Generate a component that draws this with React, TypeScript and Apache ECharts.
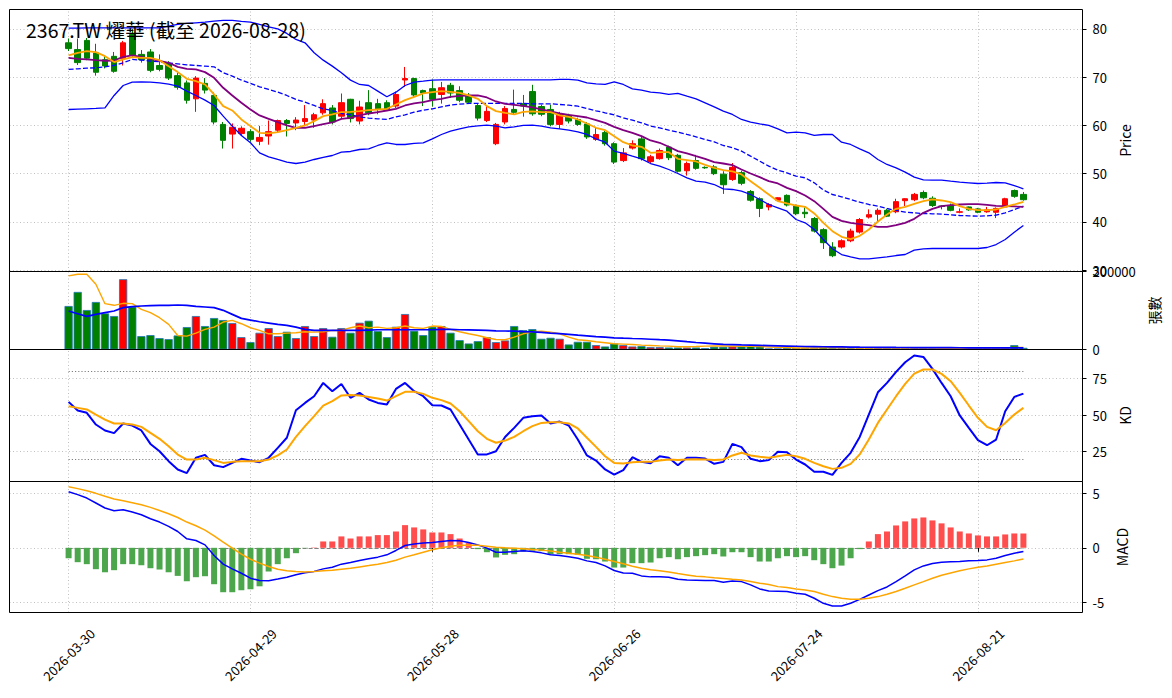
import React, { useEffect, useRef } from "react";
import * as echarts from "echarts";

const dates = [
  "2026-03-30","2026-03-31","2026-04-01","2026-04-02","2026-04-07","2026-04-08","2026-04-09","2026-04-10","2026-04-13","2026-04-14",
  "2026-04-15","2026-04-16","2026-04-17","2026-04-20","2026-04-21","2026-04-22","2026-04-23","2026-04-24","2026-04-27","2026-04-28",
  "2026-04-29","2026-04-30","2026-05-04","2026-05-05","2026-05-06","2026-05-07","2026-05-08","2026-05-11","2026-05-12","2026-05-13",
  "2026-05-14","2026-05-15","2026-05-18","2026-05-19","2026-05-20","2026-05-21","2026-05-22","2026-05-25","2026-05-26","2026-05-27",
  "2026-05-28","2026-05-29","2026-06-01","2026-06-02","2026-06-03","2026-06-04","2026-06-05","2026-06-08","2026-06-09","2026-06-10",
  "2026-06-11","2026-06-12","2026-06-15","2026-06-16","2026-06-17","2026-06-18","2026-06-22","2026-06-23","2026-06-24","2026-06-25",
  "2026-06-26","2026-06-29","2026-06-30","2026-07-01","2026-07-02","2026-07-03","2026-07-06","2026-07-07","2026-07-08","2026-07-09",
  "2026-07-10","2026-07-13","2026-07-14","2026-07-15","2026-07-16","2026-07-17","2026-07-20","2026-07-21","2026-07-22","2026-07-23",
  "2026-07-24","2026-07-27","2026-07-28","2026-07-29","2026-07-30","2026-07-31","2026-08-03","2026-08-04","2026-08-05","2026-08-06",
  "2026-08-07","2026-08-10","2026-08-11","2026-08-12","2026-08-13","2026-08-14","2026-08-17","2026-08-18","2026-08-19","2026-08-20",
  "2026-08-21","2026-08-24","2026-08-25","2026-08-26","2026-08-27","2026-08-28",
];

const openP = [
  77.1, 75.7, 77.6, 75.0, 73.6, 74.3, 73.9, 78.8, 74.7, 75.2,
  72.4, 72.8, 70.3, 68.8, 65.5, 68.7, 66.2, 60.2, 58.2, 58.3,
  58.7, 56.7, 57.8, 59.0, 61.0, 60.5, 60.8, 61.1, 62.6, 63.6,
  61.9, 65.4, 60.9, 64.7, 64.5, 64.7, 64.0, 69.4, 69.7, 67.2,
  67.6, 66.4, 68.3, 67.2, 66.2, 64.1, 61.0, 56.2, 60.7, 63.3,
  64.5, 67.0, 63.9, 63.3, 60.2, 62.0, 61.2, 60.3, 57.1, 58.5,
  56.2, 52.7, 55.3, 57.2, 52.5, 53.1, 55.5, 53.8, 50.6, 52.7,
  51.3, 51.4, 49.9, 48.8, 50.2, 46.3, 44.8, 43.1, 44.5, 45.5,
  43.3, 42.0, 40.7, 38.4, 34.8, 34.8, 36.1, 37.9, 41.0, 41.6,
  42.4, 42.1, 44.4, 44.6, 46.1, 44.9, 43.3, 43.4, 42.0, 43.1,
  42.7, 42.1, 42.0, 43.1, 46.5, 45.7,
];
const closeP = [
  75.9, 73.0, 73.9, 71.0, 72.3, 71.2, 77.1, 74.5, 73.6, 71.4,
  71.6, 69.8, 67.9, 65.2, 69.8, 67.3, 60.7, 56.9, 59.6, 59.4,
  57.1, 57.5, 58.7, 61.0, 60.4, 61.1, 61.4, 62.2, 64.5, 60.7,
  64.7, 61.4, 63.8, 62.6, 63.3, 63.4, 66.4, 69.7, 66.3, 66.7,
  65.4, 67.8, 66.7, 65.2, 64.8, 61.5, 62.9, 60.2, 63.5, 62.7,
  64.0, 62.4, 62.3, 60.2, 62.4, 60.9, 60.2, 57.6, 58.1, 56.2,
  52.4, 54.3, 56.2, 53.1, 53.5, 54.8, 53.3, 50.5, 52.1, 51.1,
  51.2, 50.0, 47.7, 51.3, 48.0, 44.5, 42.8, 43.6, 45.0, 43.5,
  41.7, 41.7, 38.1, 35.7, 33.0, 36.1, 38.1, 40.5, 41.5, 42.4,
  41.2, 44.2, 44.8, 45.7, 45.0, 43.4, 43.2, 42.4, 42.1, 42.5,
  42.0, 42.5, 42.8, 44.8, 45.3, 44.6,
];
const highP = [
  78.0, 78.0, 78.1, 76.9, 74.5, 75.2, 77.5, 79.9, 75.6, 75.8,
  74.7, 73.3, 70.9, 69.3, 70.2, 69.8, 66.8, 60.7, 60.4, 59.8,
  59.2, 59.9, 61.0, 61.2, 61.3, 61.7, 64.2, 62.6, 65.4, 64.2,
  66.6, 65.5, 65.1, 67.3, 65.5, 65.2, 67.0, 72.1, 69.9, 67.4,
  69.5, 69.0, 68.8, 68.1, 66.7, 64.5, 64.0, 60.5, 64.0, 67.4,
  66.3, 68.4, 64.3, 64.3, 62.8, 62.4, 61.6, 60.7, 59.5, 58.9,
  56.5, 55.3, 56.9, 57.6, 53.9, 55.2, 55.8, 54.1, 52.5, 53.9,
  51.5, 51.8, 50.5, 52.2, 50.6, 46.6, 45.1, 43.9, 45.1, 45.7,
  43.6, 43.0, 41.0, 38.7, 35.8, 36.4, 38.6, 40.8, 42.6, 42.8,
  42.7, 44.8, 44.9, 46.0, 46.5, 45.3, 43.4, 43.8, 42.8, 43.2,
  42.9, 43.1, 43.0, 45.0, 46.7, 46.2,
];
const lowP = [
  75.4, 72.5, 73.5, 70.3, 71.8, 70.9, 72.4, 74.0, 73.0, 71.0,
  71.2, 69.4, 67.4, 64.5, 62.8, 66.6, 60.2, 55.2, 55.2, 57.8,
  56.6, 55.9, 56.0, 58.6, 57.7, 59.0, 59.8, 59.5, 62.2, 60.2,
  61.5, 60.6, 60.2, 62.1, 62.3, 63.0, 63.6, 68.0, 65.7, 64.0,
  63.9, 64.5, 65.7, 64.8, 64.4, 61.0, 60.7, 55.9, 60.2, 62.3,
  61.8, 62.0, 61.9, 59.8, 59.3, 60.4, 59.9, 57.2, 56.8, 55.8,
  52.0, 52.4, 55.0, 52.7, 52.2, 52.9, 52.8, 50.2, 49.6, 50.8,
  51.0, 49.7, 45.8, 48.5, 47.6, 44.2, 41.0, 42.4, 44.2, 43.2,
  41.4, 40.8, 37.8, 34.4, 32.7, 34.5, 35.8, 37.6, 40.7, 40.0,
  41.0, 41.8, 43.3, 44.3, 44.7, 43.1, 42.6, 42.2, 41.8, 42.3,
  41.8, 41.9, 40.8, 42.9, 45.0, 44.4,
];

const ma5 = [
  74.48, 75.03, 75.38, 75.17, 74.34, 73.1, 73.65, 74.13, 74.0, 74.0,
  73.51, 72.27, 71.03, 69.65, 69.16, 68.47, 66.4, 63.98, 63.09, 61.22,
  59.84, 58.46, 58.32, 58.6, 59.01, 59.5, 59.98, 60.88, 61.91, 62.26,
  62.74, 62.81, 62.95, 63.15, 63.29, 63.43, 64.33, 65.23, 65.92, 66.61,
  66.88, 67.09, 66.95, 66.74, 66.19, 65.5, 63.98, 62.95, 62.6, 62.26,
  62.81, 62.88, 62.74, 62.74, 62.05, 61.77, 61.22, 60.39, 59.5, 59.01,
  57.77, 56.52, 55.83, 55.56, 54.31, 54.45, 54.45, 53.07, 52.8, 52.52,
  51.83, 51.21, 50.72, 50.45, 49.83, 48.44, 47.06, 45.68, 44.3, 43.82,
  43.4, 43.13, 41.75, 39.81, 38.09, 36.91, 36.43, 37.12, 38.43, 40.09,
  41.54, 42.71, 43.13, 43.75, 44.3, 44.65, 44.44, 44.09, 43.27, 42.71,
  42.44, 42.44, 42.57, 43.13, 43.61, 44.16,
];
const ma10 = [
  74.0, 73.79, 73.65, 73.51, 73.38, 73.44, 74.2, 74.48, 74.2, 73.79,
  73.38, 72.96, 72.13, 71.72, 71.58, 71.03, 69.85, 67.78, 66.19, 64.67,
  63.29, 62.05, 61.36, 60.67, 59.98, 59.5, 59.5, 59.84, 60.25, 60.6,
  61.36, 61.57, 62.05, 62.46, 62.74, 63.08, 63.43, 64.12, 64.54, 64.81,
  65.23, 65.5, 65.92, 66.12, 66.19, 66.19, 65.78, 64.95, 64.47, 64.26,
  64.05, 63.71, 63.29, 62.88, 62.46, 62.19, 61.91, 61.63, 61.08, 60.53,
  59.7, 59.01, 58.46, 57.77, 56.87, 56.39, 55.56, 54.66, 54.18, 53.62,
  53.07, 52.38, 52.1, 51.76, 50.86, 50.03, 49.27, 48.44, 47.96, 47.06,
  46.37, 45.47, 44.3, 42.71, 41.05, 40.23, 39.81, 39.54, 39.33, 38.98,
  38.98, 39.33, 39.81, 40.64, 41.88, 42.71, 43.27, 43.47, 43.61, 43.68,
  43.68, 43.54, 43.33, 43.27, 43.2, 43.13,
];
const ma20 = [
  71.58, 71.72, 71.86, 71.92, 72.13, 72.41, 72.96, 73.65, 73.51, 73.31,
  73.17, 72.96, 72.75, 72.55, 72.41, 72.27, 72.13, 70.89, 70.2, 69.37,
  68.68, 67.99, 67.44, 66.88, 66.19, 65.36, 64.81, 64.12, 63.43, 63.08,
  62.46, 62.19, 61.77, 61.5, 61.36, 61.22, 61.77, 62.19, 62.74, 63.15,
  63.43, 63.85, 64.19, 64.4, 64.54, 64.54, 64.54, 64.54, 64.54, 64.54,
  64.54, 64.47, 64.47, 64.47, 64.33, 64.19, 63.98, 63.5, 63.02, 62.6,
  62.19, 61.57, 61.08, 60.53, 59.84, 59.49, 59.01, 58.6, 58.11, 57.63,
  57.08, 56.59, 55.83, 55.35, 54.66, 53.62, 52.59, 51.55, 50.72, 50.17,
  49.48, 49.14, 48.1, 46.6, 45.68, 45.2, 44.65, 44.09, 43.61, 43.27,
  42.78, 42.37, 42.02, 41.88, 41.74, 41.68, 41.61, 41.47, 41.33, 41.26,
  41.19, 41.26, 41.4, 41.88, 42.57, 43.27,
];
const bbUpper = [
  80.14, 80.14, 80.21, 80.21, 80.21, 80.21, 80.21, 80.21, 80.21, 80.21,
  80.21, 80.56, 80.9, 81.11, 81.25, 81.39, 81.59, 81.73, 81.73, 81.52,
  81.39, 80.9, 80.42, 80.0, 79.04, 77.79, 77.1, 75.03, 73.51, 72.27,
  70.89, 69.37, 68.47, 68.26, 67.09, 65.92, 66.88, 68.26, 68.96, 69.16,
  69.37, 69.44, 69.44, 69.44, 69.44, 69.44, 69.44, 69.44, 69.44, 69.44,
  69.44, 69.44, 69.44, 69.44, 69.51, 69.51, 69.37, 68.82, 68.61, 68.47,
  69.02, 68.47, 67.57, 67.3, 66.88, 66.74, 66.4, 66.61, 66.05, 65.5,
  64.67, 63.84, 62.95, 62.26, 61.22, 60.67, 60.32, 59.98, 59.29, 58.46,
  58.6, 58.46, 57.91, 58.11, 58.11, 56.52, 56.04, 55.14, 54.31, 52.93,
  51.9, 51.21, 50.31, 49.27, 48.72, 48.65, 48.65, 48.44, 48.24, 48.1,
  47.96, 48.03, 48.17, 48.1, 47.54, 46.86,
];
const bbLower = [
  63.29, 63.36, 63.43, 63.5, 63.64, 66.19, 68.26, 68.96, 69.02, 68.96,
  68.82, 68.54, 68.13, 67.09, 66.19, 65.23, 64.12, 61.91, 59.84, 57.91,
  56.39, 54.31, 53.49, 52.93, 52.38, 52.1, 52.38, 52.93, 53.35, 53.76,
  54.45, 54.59, 55.0, 55.14, 55.83, 56.39, 56.04, 56.04, 56.25, 56.39,
  57.21, 58.11, 58.8, 59.29, 59.7, 59.91, 60.05, 59.84, 59.49, 59.7,
  59.98, 60.05, 59.84, 59.49, 59.29, 59.01, 58.67, 58.11, 57.21, 56.52,
  54.66, 54.18, 53.62, 53.07, 52.1, 51.55, 50.86, 50.03, 49.13, 48.44,
  48.24, 47.75, 46.86, 46.72, 46.37, 45.68, 44.65, 43.61, 42.92, 42.23,
  40.5, 39.81, 38.43, 36.36, 34.43, 33.25, 32.77, 32.35, 32.35, 32.56,
  32.77, 33.04, 33.25, 34.15, 34.43, 34.49, 34.49, 34.49, 34.49, 34.49,
  34.49, 34.7, 35.32, 36.36, 37.88, 39.26,
];

const volume = [
  111500, 147600, 101200, 121800, 92700, 85800, 180200, 109800, 34300, 36900,
  29200, 26600, 36000, 57500, 85800, 60100, 80700, 75500, 67800, 31700,
  18900, 42900, 54900, 34300, 45500, 29200, 60100, 34300, 54900, 32600,
  54900, 42900, 68600, 73800, 47200, 31700, 58300, 90900, 48000, 36900,
  58300, 60100, 42900, 24000, 15400, 21400, 31700, 18900, 23200, 60100,
  49800, 52300, 27500, 30000, 27500, 12900, 19700, 19700, 11200, 7700,
  15400, 11200, 7700, 8600, 6000, 6000, 5100, 5100, 5100, 5100,
  3400, 6900, 6900, 7700, 7700, 8600, 7700, 2600, 2600, 4300,
  4300, 4300, 4300, 6000, 4300, 3800, 3500, 3500, 3500, 3800,
  3800, 3800, 3500, 3000, 3500, 3500, 3000, 3000, 3500, 3500,
  3800, 3500, 3800, 4300, 11200, 4300,
];
const volMa5 = [
  188800, 193000, 193000, 167300, 117500, 113300, 118400, 117500, 103000, 94400,
  81500, 64400, 36000, 34300, 42000, 51500, 57500, 70400, 74600, 66100,
  55800, 48900, 40300, 40300, 42000, 42900, 45500, 44600, 45500, 48900,
  48900, 55800, 60100, 55800, 57500, 54100, 55800, 60100, 55800, 54100,
  60100, 59200, 51500, 45500, 40300, 36000, 30000, 25700, 24900, 31700,
  40300, 45500, 47200, 44600, 40300, 31700, 24900, 23200, 19700, 17200,
  14600, 13700, 12900, 11200, 10300, 9400, 8600, 6900, 6900, 7700,
  8600, 9400, 9000, 8500, 8000, 8000, 7500, 6500, 5500, 5000,
  4000, 3800, 4000, 4600, 4600, 4400, 4200, 3900, 3700, 3600,
  3600, 3600, 3600, 3500, 3400, 3400, 3300, 3300, 3300, 3300,
  3400, 3400, 3500, 3700, 5200, 5400,
];
const volMa20 = [
  98700, 91800, 84900, 90100, 94400, 98700, 107300, 109800, 111500, 112400,
  113300, 113300, 114100, 113300, 110700, 109000, 107300, 100400, 90100, 79800,
  75500, 71200, 67800, 64400, 61800, 57500, 51500, 48900, 48900, 48900,
  48900, 48900, 48900, 49800, 50600, 50600, 50600, 50600, 50600, 50600,
  50600, 51500, 51500, 50600, 50200, 49800, 49000, 48000, 47500, 47200,
  46000, 45000, 43800, 42000, 40500, 39000, 36900, 35000, 33000, 31500,
  30000, 29000, 28200, 27500, 26300, 25100, 24000, 22300, 20100, 18000,
  16300, 14600, 12900, 12300, 11700, 11200, 10600, 10000, 9400, 8800,
  8300, 7700, 7400, 7100, 6900, 6600, 6300, 6000, 5800, 5600,
  5400, 5200, 5100, 5000, 4900, 4800, 4700, 4600, 4500, 4400,
  4300, 4200, 4100, 4000, 4100, 4100,
];

const kValues = [
  59.0, 53.1, 51.5, 43.5, 39.4, 37.6, 44.2, 42.8, 39.4, 30.2,
  25.2, 18.4, 12.7, 10.2, 20.7, 22.7, 15.6, 14.3, 17.2, 20.0,
  18.8, 17.7, 20.7, 27.5, 34.4, 53.3, 58.3, 62.9, 72.0, 66.3,
  71.3, 61.8, 65.2, 60.6, 58.3, 57.2, 67.9, 72.0, 66.3, 62.9,
  56.7, 56.5, 53.8, 43.5, 33.2, 23.0, 23.0, 25.2, 35.0, 41.2,
  48.1, 49.2, 49.7, 44.2, 45.5, 42.8, 33.2, 22.3, 18.8, 12.7,
  9.2, 12.2, 21.1, 17.9, 17.0, 21.8, 20.7, 15.6, 20.7, 20.7,
  20.2, 16.6, 17.9, 30.2, 28.0, 20.0, 18.4, 19.1, 24.8, 24.5,
  19.5, 16.1, 11.1, 11.1, 9.0, 17.2, 24.1, 35.0, 50.3, 65.6,
  72.0, 79.6, 86.2, 90.8, 89.8, 81.6, 72.0, 62.9, 49.7, 41.2,
  32.8, 29.3, 33.2, 52.6, 62.4, 64.7,
];
const dValues = [
  56.0, 54.9, 53.8, 50.3, 46.9, 44.2, 44.2, 43.5, 41.9, 37.8,
  33.7, 28.6, 22.9, 19.5, 19.5, 20.7, 19.1, 17.2, 17.9, 18.4,
  18.4, 18.4, 19.5, 22.3, 26.4, 35.0, 42.4, 49.2, 56.5, 59.5,
  63.4, 63.8, 63.4, 62.4, 61.3, 59.9, 62.9, 65.9, 65.9, 64.5,
  61.8, 60.2, 57.9, 52.6, 45.8, 38.9, 33.7, 31.0, 32.5, 35.0,
  38.9, 42.4, 44.6, 45.1, 45.1, 44.2, 40.8, 34.4, 28.2, 21.8,
  17.2, 16.8, 17.7, 17.9, 17.9, 18.8, 19.5, 19.1, 19.5, 19.7,
  19.5, 19.1, 19.5, 22.3, 24.1, 22.3, 21.4, 20.7, 21.8, 22.7,
  21.8, 20.0, 17.2, 14.9, 13.1, 13.8, 16.5, 23.0, 33.2, 44.6,
  53.8, 62.9, 71.3, 78.4, 81.2, 81.2, 78.2, 73.2, 65.2, 56.5,
  48.1, 41.9, 39.6, 44.6, 50.3, 54.9,
];

const difValues = [
  5.12, 4.85, 4.54, 4.09, 3.63, 3.38, 3.48, 3.26, 3.02, 2.65,
  2.35, 1.95, 1.49, 0.82, 0.67, 0.27, -0.7, -1.49, -1.92, -2.32,
  -2.77, -2.99, -3.0, -2.85, -2.68, -2.45, -2.28, -2.15, -1.92, -1.77,
  -1.49, -1.34, -1.16, -1.0, -0.85, -0.64, -0.24, 0.21, 0.34, 0.43,
  0.49, 0.58, 0.67, 0.64, 0.49, 0.27, -0.03, -0.4, -0.4, -0.34,
  -0.27, -0.34, -0.46, -0.64, -0.7, -0.82, -0.95, -1.19, -1.34, -1.65,
  -2.07, -2.29, -2.32, -2.56, -2.65, -2.65, -2.68, -2.87, -2.93, -2.96,
  -2.99, -2.99, -3.14, -3.02, -3.08, -3.38, -3.75, -3.93, -3.96, -3.99,
  -4.15, -4.24, -4.6, -5.06, -5.3, -5.3, -5.06, -4.7, -4.3, -3.9,
  -3.57, -3.08, -2.56, -2.01, -1.65, -1.43, -1.31, -1.28, -1.25, -1.19,
  -1.16, -1.1, -0.95, -0.7, -0.49, -0.34,
];
const deaValues = [
  5.58, 5.4, 5.21, 4.97, 4.7, 4.45, 4.3, 4.12, 3.93, 3.69,
  3.41, 3.11, 2.77, 2.35, 2.01, 1.62, 1.1, 0.52, -0.03, -0.58,
  -1.04, -1.4, -1.71, -1.95, -2.1, -2.16, -2.2, -2.16, -2.1, -2.04,
  -1.95, -1.86, -1.74, -1.62, -1.49, -1.34, -1.13, -0.85, -0.64, -0.4,
  -0.18, 0.0, 0.15, 0.24, 0.24, 0.24, 0.15, 0.06, 0.0, -0.03,
  -0.09, -0.15, -0.21, -0.3, -0.4, -0.49, -0.58, -0.7, -0.85, -1.04,
  -1.25, -1.46, -1.68, -1.86, -2.01, -2.1, -2.2, -2.35, -2.47, -2.59,
  -2.65, -2.74, -2.8, -2.87, -2.93, -3.08, -3.23, -3.35, -3.54, -3.63,
  -3.75, -3.84, -3.99, -4.24, -4.45, -4.6, -4.7, -4.7, -4.6, -4.45,
  -4.24, -3.99, -3.69, -3.38, -3.08, -2.77, -2.5, -2.29, -2.1, -1.92,
  -1.77, -1.65, -1.49, -1.34, -1.19, -1.01,
];
const histValues = [
  -0.95, -1.31, -1.49, -1.95, -2.23, -2.04, -1.49, -1.49, -1.59, -1.86,
  -1.98, -2.23, -2.56, -3.05, -2.68, -2.59, -3.32, -4.05, -4.05, -3.87,
  -3.78, -3.51, -2.16, -1.49, -0.95, -0.49, -0.03, 0.03, 0.58, 0.58,
  1.04, 0.85, 1.04, 1.04, 1.16, 1.16, 1.49, 2.07, 1.86, 1.68,
  1.4, 1.4, 1.25, 0.85, 0.43, -0.12, -0.4, -0.88, -0.64, -0.58,
  -0.34, -0.27, -0.3, -0.58, -0.58, -0.58, -0.64, -1.0, -1.04, -1.25,
  -1.8, -1.8, -1.4, -1.4, -1.34, -0.95, -0.85, -1.04, -0.85, -0.76,
  -0.67, -0.58, -0.79, -0.4, -0.4, -0.85, -1.25, -1.25, -0.95, -0.76,
  -0.85, -0.76, -1.13, -1.49, -1.86, -1.62, -0.95, -0.12, 0.58, 1.25,
  1.49, 2.04, 2.41, 2.68, 2.77, 2.5, 2.23, 1.86, 1.49, 1.31,
  1.13, 1.04, 1.04, 1.22, 1.31, 1.31,
];

const kdTickValues = [25, 50, 75];
const kdRefLevels = [80, 20];
const TITLE = "2367.TW 燿華 (截至 2026-08-28)";

const FONT = '"Noto Sans CJK TC", "Noto Sans", sans-serif';
const PAD = 6;
const RED = "#ff0000";
const GREEN = "#008000";
const GRID_LINE = { color: "#b0b0b0", type: [1, 2.5] as number[], width: 0.8 };

const PANELS = [
  { top: 9.5, height: 262 },
  { top: 271.5, height: 78 },
  { top: 349.5, height: 132 },
  { top: 481.5, height: 131 },
];
const PANEL_LEFT = 9.5;
const PANEL_WIDTH = 1073;

export default function App() {
  const ref = useRef<HTMLDivElement>(null);

  useEffect(() => {
    if (!ref.current) return;
    const chart = echarts.init(ref.current, null, { renderer: "svg" });

    const padL = Array.from({ length: PAD }, (_, k) => `_l${k}`);
    const padR = Array.from({ length: PAD }, (_, k) => `_r${k}`);
    const cats = [...padL, ...dates, ...padR];
    const blanks = Array.from({ length: PAD }, () => "-");
    const pad = (a: any[]) => [...blanks, ...a, ...blanks];
    const tickIdx = new Set<number>();
    dates.forEach((_, i) => {
      if (i % 20 === 0) tickIdx.add(i + PAD);
    });
    const tickDates = dates.filter((_, i) => i % 20 === 0);
    const isTick = (index: number) => tickIdx.has(index);
    const first = dates[0];
    const last = dates[dates.length - 1];

    const grids = PANELS.map((g) => ({
      left: PANEL_LEFT,
      width: PANEL_WIDTH,
      top: g.top,
      height: g.height,
      show: false,
    }));

    const frames = PANELS.map((g) => ({
      type: "rect",
      silent: true,
      z: 100,
      shape: { x: PANEL_LEFT, y: g.top, width: PANEL_WIDTH, height: g.height },
      style: { fill: "none", stroke: "#000", lineWidth: 1 },
    }));

    const xAxes = grids.map((_, k) => ({
      type: "category",
      gridIndex: k,
      data: cats,
      boundaryGap: true,
      axisLine: { show: false },
      axisTick: {
        show: k === 3,
        alignWithLabel: true,
        interval: (index: number) => isTick(index),
        length: 4,
        lineStyle: { color: "#000" },
      },
      axisLabel: {
        show: k === 3,
        interval: (index: number) => isTick(index),
        rotate: 45,
        align: "center",
        verticalAlign: "middle",
        margin: 42,
        fontSize: 13,
        color: "#000",
        fontFamily: FONT,
      },
      splitLine: { show: false },
    }));

    const yBase = {
      type: "value",
      position: "right",
      scale: true,
      axisLine: { show: false },
      axisTick: { show: true, length: 4, lineStyle: { color: "#000" } },
      axisLabel: { fontSize: 13, color: "#000", margin: 10, fontFamily: FONT, showMinLabel: false, showMaxLabel: false },
      nameLocation: "middle",
      nameTextStyle: { fontSize: 14, color: "#000", fontFamily: FONT },
      splitLine: { show: true, lineStyle: GRID_LINE },
    };

    const yAxes = [
      { ...yBase, gridIndex: 0, min: 29.73, max: 84.0, splitNumber: 5, name: "Price", nameGap: 31 },
      {
        ...yBase,
        gridIndex: 1,
        min: 0,
        max: 200000,
        interval: 200000,
        name: "張數",
        nameGap: 63,
        axisLabel: {
          ...yBase.axisLabel,
          showMinLabel: true,
          showMaxLabel: true,
          formatter: (v: number) => String(Math.round(v)),
        },
      },
      {
        ...yBase,
        gridIndex: 2,
        min: 4.45,
        max: 94.9,
        name: "KD",
        nameGap: 31,
        axisLabel: { ...yBase.axisLabel, customValues: kdTickValues, showMinLabel: true, showMaxLabel: true },
        axisTick: { ...yBase.axisTick, customValues: kdTickValues },
        splitLine: { show: false },
      },
      { ...yBase, gridIndex: 3, min: -5.9, max: 6.05, splitNumber: 2, name: "MACD", nameGap: 29 },
    ];

    const vGrid = tickDates.map((d) => ({ xAxis: d }));
    const markBase = {
      silent: true,
      symbol: ["none", "none"],
      label: { show: false },
      lineStyle: GRID_LINE,
      emphasis: { disabled: true },
      animation: false,
      z: 0,
    };

    const lineS = (name: string, data: number[], xi: number, color: string, width: number, extra: any = {}) => ({
      name,
      type: "line",
      xAxisIndex: xi,
      yAxisIndex: xi,
      data: pad(data),
      symbol: "none",
      showSymbol: false,
      connectNulls: false,
      lineStyle: { color, width, ...(extra.lineStyle || {}) },
      itemStyle: { color },
      emphasis: { disabled: true },
      silent: true,
      z: 3,
      ...(extra.markLine ? { markLine: extra.markLine } : {}),
    });

    const candleData = pad(
      dates.map((_, i) => [openP[i], closeP[i], lowP[i], highP[i]])
    ).map((v) => (v === "-" ? ["-", "-", "-", "-"] : v));

    const volData = pad(
      volume.map((v, i) => ({
        value: v,
        itemStyle: { color: closeP[i] >= openP[i] ? RED : GREEN },
      }))
    );

    const histData = pad(
      histValues.map((v) => ({
        value: v,
        itemStyle: { color: v >= 0 ? "#ff4c4c" : "#4ca64c" },
      }))
    );

    const kdMarks = [
      ...vGrid,
      ...kdTickValues.map((v) => ({ yAxis: v })),
      ...kdRefLevels.map((lv) => [
        { coord: [first, lv], lineStyle: { color: "#808080", type: [1.2, 2], width: 1 } },
        { coord: [last, lv] },
      ]),
    ];

    const macdMarks = [
      ...vGrid,
      [
        { coord: [first, 0], lineStyle: { color: "#808080", type: [4, 2], width: 1 } },
        { coord: [last, 0] },
      ],
    ];

    const series: any[] = [
      {
        name: "K線",
        type: "candlestick",
        xAxisIndex: 0,
        yAxisIndex: 0,
        data: candleData,
        barWidth: 6,
        itemStyle: {
          color: RED,
          color0: GREEN,
          borderColor: RED,
          borderColor0: GREEN,
          borderWidth: 1,
        },
        emphasis: { disabled: true },
        silent: true,
        z: 2,
        markLine: { ...markBase, data: vGrid },
      },
      lineS("BB上軌", bbUpper, 0, "#0000ff", 1.3),
      lineS("BB下軌", bbLower, 0, "#0000ff", 1.3),
      lineS("MA20", ma20, 0, "#0000ff", 1.3, { lineStyle: { type: [5, 2.2] } }),
      lineS("MA10", ma10, 0, "#800080", 1.8),
      lineS("MA5", ma5, 0, "#ffa500", 1.8),
      {
        name: "成交量",
        type: "bar",
        xAxisIndex: 1,
        yAxisIndex: 1,
        data: volData,
        barWidth: 8.2,
        itemStyle: { borderColor: "#1f77b4", borderWidth: 0.8 },
        emphasis: { disabled: true },
        silent: true,
        z: 2,
        markLine: { ...markBase, data: vGrid },
      },
      lineS("量MA5", volMa5, 1, "#ffa500", 1.4),
      lineS("量MA20", volMa20, 1, "#0000ff", 1.7),
      lineS("K", kValues, 2, "#0000ff", 2, { markLine: { ...markBase, data: kdMarks } }),
      lineS("D", dValues, 2, "#ffa500", 2),
      {
        name: "OSC",
        type: "bar",
        xAxisIndex: 3,
        yAxisIndex: 3,
        data: histData,
        barWidth: 6,
        emphasis: { disabled: true },
        silent: true,
        z: 2,
        markLine: { ...markBase, data: macdMarks },
      },
      lineS("DIF", difValues, 3, "#0000ff", 1.5),
      lineS("DEA", deaValues, 3, "#ffa500", 1.5),
    ];

    chart.setOption({
      animation: false,
      backgroundColor: "#ffffff",
      textStyle: { fontFamily: FONT },
      title: {
        text: TITLE,
        left: 26,
        top: 20,
        padding: 0,
        textStyle: { fontSize: 19.5, fontWeight: "normal", color: "#000", fontFamily: FONT },
        z: 20,
      },
      grid: grids,
      xAxis: xAxes,
      yAxis: yAxes,
      series,
      graphic: frames,
    });

    return () => chart.dispose();
  }, []);

  return (
    <div
      ref={ref}
      style={{ position: "absolute", left: 0, top: 0, width: 1172, height: 698, background: "#fff" }}
    />
  );
}
